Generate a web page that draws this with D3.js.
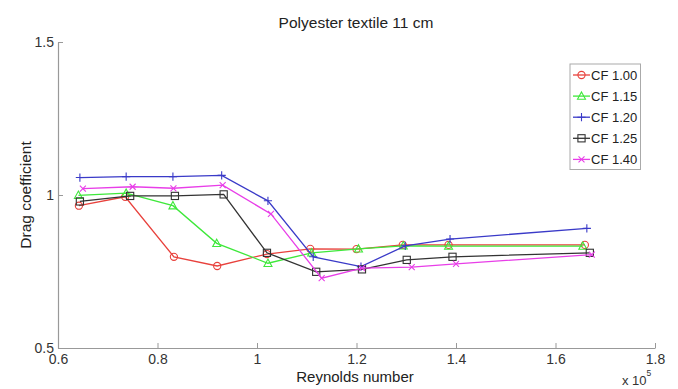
<!DOCTYPE html>
<html><head><meta charset="utf-8">
<script src="https://cdn.jsdelivr.net/npm/d3@7"></script>
<style>body{margin:0;background:#fff;} text{font-family:Arial,"Liberation Sans",sans-serif;}</style>
</head><body><svg id="c" width="678" height="389"></svg>
<script>
const seriesNames = ["CF 1.00","CF 1.15","CF 1.20","CF 1.25","CF 1.40"];
const seriesColors = ["#e8413c","#3ee83a","#3a3ac8","#333333","#e83ee8"];
const seriesMarkers = ["circle","triangle","plus","square","cross"];
const xCF100 = [0.642,0.735,0.833,0.920,1.020,1.107,1.200,1.293,1.385,1.659];
const yCF100 = [0.965,0.994,0.798,0.768,0.807,0.824,0.823,0.837,0.837,0.837];
const xCF115 = [0.641,0.737,0.831,0.919,1.022,1.110,1.204,1.294,1.385,1.655];
const yCF115 = [0.999,1.006,0.965,0.842,0.777,0.811,0.824,0.834,0.833,0.833];
const xCF120 = [0.644,0.737,0.831,0.929,1.022,1.113,1.209,1.298,1.388,1.663];
const yCF120 = [1.057,1.060,1.060,1.064,0.981,0.798,0.766,0.834,0.856,0.891];
const xCF125 = [0.644,0.745,0.835,0.933,1.020,1.119,1.211,1.301,1.393,1.669];
const yCF125 = [0.979,0.997,0.997,1.002,0.811,0.749,0.757,0.788,0.798,0.811];
const xCF140 = [0.650,0.750,0.832,0.931,1.028,1.130,1.211,1.311,1.400,1.673];
const yCF140 = [1.021,1.027,1.022,1.032,0.938,0.728,0.761,0.764,0.775,0.805];
const xTicks = [0.6,0.8,1,1.2,1.4,1.6,1.8];
const yTicks = [0.5,1,1.5];
const titleText = "Polyester textile 11 cm";
const xLabelText = "Reynolds number";
const yLabelText = "Drag coefficient";

const xs = [xCF100,xCF115,xCF120,xCF125,xCF140];
const ys = [yCF100,yCF115,yCF120,yCF125,yCF140];

const svg = d3.select("#c");
const x = d3.scaleLinear().domain([0.6,1.8]).range([58,655]);
const y = d3.scaleLinear().domain([0.5,1.5]).range([348,42]);
const axisColor = "#999";

// axes
const gx = svg.append("g").attr("transform","translate(0,348)")
  .call(d3.axisBottom(x).tickValues(xTicks).tickFormat(d3.format("")).tickSizeInner(-5).tickSizeOuter(0).tickPadding(6));
const gy = svg.append("g").attr("transform","translate(58,0)")
  .call(d3.axisLeft(y).tickValues(yTicks).tickFormat(d3.format("")).tickSizeInner(-5).tickSizeOuter(0).tickPadding(4));
[gx,gy].forEach(g=>{
  g.select(".domain").attr("stroke",axisColor).attr("stroke-width",1.2);
  g.selectAll(".tick line").attr("stroke",axisColor).attr("stroke-width",1);
  g.selectAll(".tick text").attr("fill","#333").attr("font-size",14).attr("font-family","Arial,'Liberation Sans',sans-serif");
});
gy.selectAll(".tick text").attr("dy","0.32em");

// title & labels
svg.append("text").attr("x",356).attr("y",28).attr("text-anchor","middle").attr("font-size",15.5).attr("fill","#222").text(titleText);
svg.append("text").attr("x",355).attr("y",382).attr("text-anchor","middle").attr("font-size",15).attr("fill","#222").text(xLabelText);
svg.append("text").attr("transform","translate(31,195) rotate(-90)").attr("text-anchor","middle").attr("font-size",15.5).attr("fill","#222").text(yLabelText);
const ex = svg.append("text").attr("x",622).attr("y",385).attr("font-size",13).attr("fill","#333");
ex.append("tspan").text("x 10");
ex.append("tspan").attr("dy",-9).attr("font-size",8.5).text("5");

function marker(g, type, cx, cy, color){
  const s = 3.6;
  if(type==="circle") g.append("circle").attr("cx",cx).attr("cy",cy).attr("r",s).attr("fill","none").attr("stroke",color).attr("stroke-width",1.1);
  else if(type==="square") g.append("rect").attr("x",cx-s).attr("y",cy-s).attr("width",2*s).attr("height",2*s).attr("fill","none").attr("stroke",color).attr("stroke-width",1.1);
  else if(type==="triangle") g.append("path").attr("d",`M${cx},${cy-s-0.6}L${cx+s+0.4},${cy+s-0.4}L${cx-s-0.4},${cy+s-0.4}Z`).attr("fill","none").attr("stroke",color).attr("stroke-width",1.1);
  else if(type==="plus") g.append("path").attr("d",`M${cx-s-0.5},${cy}H${cx+s+0.5}M${cx},${cy-s-0.5}V${cy+s+0.5}`).attr("stroke",color).attr("stroke-width",1.1);
  else if(type==="cross") g.append("path").attr("d",`M${cx-s+0.6},${cy-s+0.6}L${cx+s-0.6},${cy+s-0.6}M${cx-s+0.6},${cy+s-0.6}L${cx+s-0.6},${cy-s+0.6}`).attr("stroke",color).attr("stroke-width",1.1);
}

const line = d3.line().x(d=>x(d[0])).y(d=>y(d[1]));
seriesNames.forEach((name,i)=>{
  const pts = xs[i].map((v,j)=>[v, ys[i][j]]);
  const g = svg.append("g");
  g.append("path").attr("d",line(pts)).attr("fill","none").attr("stroke",seriesColors[i]).attr("stroke-width",1.3);
  pts.forEach(p=>marker(g, seriesMarkers[i], x(p[0]), y(p[1]), seriesColors[i]));
});

// legend
const lg = svg.append("g");
lg.append("rect").attr("x",570).attr("y",64).attr("width",70.5).attr("height",105.5).attr("fill","#fff").attr("stroke","#aaa").attr("stroke-width",1);
seriesNames.forEach((name,i)=>{
  const ly = 75 + i*21.1;
  lg.append("line").attr("x1",573).attr("x2",590).attr("y1",ly).attr("y2",ly).attr("stroke",seriesColors[i]).attr("stroke-width",1.3);
  marker(lg, seriesMarkers[i], 581.5, ly, seriesColors[i]);
  lg.append("text").attr("x",591).attr("y",ly).attr("dy","0.36em").attr("font-size",13).attr("fill","#222").text(name);
});
</script></body></html>
